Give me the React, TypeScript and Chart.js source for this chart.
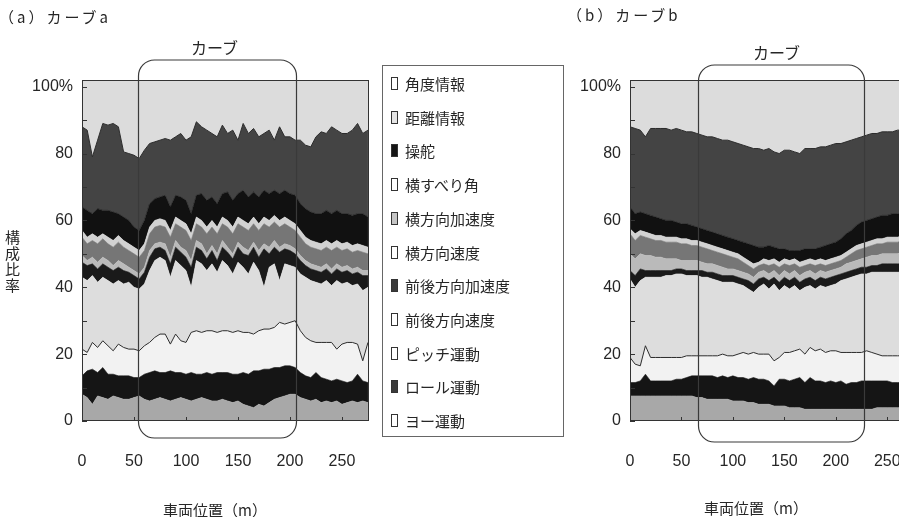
import React, { useEffect, useRef } from "react";
import { Chart, registerables } from "chart.js";

Chart.register(...registerables);

// ---------- data ----------
const POSITIONS = [
  0, 5, 10, 15, 20, 25, 30, 35,
  40, 45, 50, 55, 60, 65, 70, 75,
  80, 85, 90, 95, 100, 105, 110, 115,
  120, 125, 130, 135, 140, 145, 150, 155,
  160, 165, 170, 175, 180, 185, 190, 195,
  200, 205, 210, 215, 220, 225, 230, 235,
  240, 245, 250, 255, 260, 265, 270, 275,
];
const X_TICKS = [0, 50, 100, 150, 200, 250];
const Y_TICKS = [0, 20, 40, 60, 80, 100];
const Y_MINOR = [10, 30, 50, 70, 90];

const LAYERS = [
  "角度情報", "距離情報", "操舵", "横すべり角", "横方向加速度", "横方向速度",
  "前後方向加速度", "前後方向速度", "ピッチ運動", "ロール運動", "ヨー運動",
];

const CURVE_A = [54, 206];
const CURVE_B = [66, 227];

// Chart (a): cumulative upper boundary (%) of each layer
const A_DIST = [
  88, 87, 79, 84, 89, 88.5, 89, 88,
  80.5, 80, 79.5, 78.5, 81, 83, 83.5, 84,
  84.5, 84, 85, 86, 84, 85, 89.5, 88,
  87, 86, 85, 88.5, 86, 87, 84, 89,
  86, 87.5, 85, 86, 87, 84, 88, 85,
  85, 84, 84, 82.5, 82, 85, 86.5, 86,
  88, 87, 86, 86, 87, 89, 86, 87,
];
const A_STEER = [
  64, 63, 62, 63.5, 63, 63, 62.5, 62,
  61, 60, 58, 57, 60, 65, 66.5, 67,
  67.5, 64, 67.5, 67, 66, 62, 67.5, 68,
  66, 67, 65, 68, 68.5, 66, 68, 69,
  67, 68.5, 67, 69, 68, 69, 68, 69,
  68, 67.5, 65, 63.5, 62.5, 62, 62, 63,
  62, 63, 62, 62, 61.5, 62, 62, 61,
];
const A_SLIP = [
  57, 55, 56, 55, 56, 55, 54, 55.5,
  54, 53, 52, 51, 53, 58, 60, 60.5,
  60, 57, 61, 60, 59, 56, 61, 60,
  58, 60, 58, 61, 60, 58, 61, 60,
  59, 61, 59, 61, 60, 61.5, 60, 61,
  60, 59, 57, 55, 54, 53.5, 53, 54,
  53, 54, 53, 53.5, 52.5, 53, 52.5, 52,
];
const A_LATACC = [
  55, 53, 54, 53, 54.5, 53, 52, 53.5,
  52, 51, 50, 49, 51, 56, 58, 58.5,
  58, 55, 59, 58, 57, 54, 59, 58,
  56, 58, 56, 59, 58, 56, 59, 58,
  57, 59, 57, 59, 58, 59.5, 58, 59,
  58, 57, 55, 53, 52, 51.5, 51, 52,
  51, 52, 51, 51.5, 50.5, 51, 50.5, 50,
];
const A_LATVEL = [
  49.5, 48, 49, 47.5, 49, 48, 46.5, 48,
  47, 46, 45, 44, 46, 51, 53, 53.5,
  53, 49, 54, 52, 51, 48, 54, 53,
  50, 52.5, 50, 54, 52, 50, 53.5, 52,
  51, 53.5, 51, 53, 52, 54, 52, 53,
  52.5, 51.5, 49.5, 48, 47, 46.5, 46, 47,
  45.5, 47, 46, 46.5, 45.5, 46, 45, 45,
];
const A_LONACC = [
  47.5, 46.5, 47, 45.5, 47, 46, 45, 46,
  45, 44.5, 43.5, 42.5, 44.5, 49, 51.5, 52,
  51, 47, 52, 50.5, 49, 46, 52, 51,
  48.5, 51, 48, 52, 50.5, 48.5, 52, 50,
  49.5, 52, 49, 51.5, 50, 52, 50.5, 51.5,
  51, 50, 48, 46.5, 45.5, 45, 44.5, 45.5,
  44, 45.5, 44.5, 45, 44, 44.5, 43.5, 43.5,
];
const A_LONVEL = [
  43, 42, 43.5, 41.5, 43, 42, 41, 42,
  41, 41.5, 40, 39.5, 41, 45, 48, 49,
  48, 43, 48, 46.5, 45, 40, 48, 47,
  45, 47, 44.5, 48, 46.5, 44, 47.5, 46,
  44, 47.5, 45, 40, 46, 47, 42, 47,
  46.5, 46, 44, 43, 42, 41.5, 41, 42,
  40.5, 42, 41, 41.5, 40.5, 41, 39, 40,
];
const A_PITCH = [
  21.5, 20.5, 23.5, 22, 24, 22.5, 21, 23,
  22, 21.5, 21.5, 21, 22.5, 23.5, 25, 26,
  26, 23, 26, 24, 23.5, 26.5, 27, 26.5,
  27, 27, 26.5, 27, 27, 26.5, 27, 26.5,
  26.5, 26, 27, 27.5, 27.5, 28, 29.5, 29,
  29.5, 30, 27, 25, 24, 23.5, 23.5, 23.5,
  23.5, 21.5, 23, 23.5, 23.5, 23, 18, 23.5,
];
const A_ROLL = [
  13.5, 15, 15.5, 14.5, 16, 14, 14, 13.5,
  13.5, 13.5, 13, 13, 14, 14.5, 15, 14.5,
  14.5, 15, 14.5, 14.5, 14, 14.5, 14, 14,
  14.5, 14, 14.5, 14.5, 14.5, 14, 14, 14.5,
  14, 15, 15, 15.5, 15.5, 16, 16, 16.5,
  16.5, 16, 14.5, 13.5, 13, 14.5, 13, 12.5,
  12, 12.5, 12, 11.5, 12, 14, 12, 11.5,
];
const A_YAW = [
  8, 7, 5, 7.5, 7, 6.5, 7.5, 7,
  6.5, 6.5, 7, 7.5, 6.5, 6, 6.5, 7,
  6.5, 6, 6.5, 7, 6.5, 6, 6.5, 7,
  6.5, 6, 6, 6.5, 6, 5.5, 6, 5,
  4.5, 4, 5, 4.5, 5.5, 6.5, 7, 7.5,
  8, 8, 7, 6.5, 6, 6.5, 5.5, 6,
  5.5, 6, 5, 5.5, 6, 5.5, 6, 5.5,
];

// Chart (b)
const B_DIST = [
  88, 87.5, 87, 85, 87.5, 87.5, 87.5, 87.5,
  87, 87.5, 87, 86.5, 86.5, 86, 85.5, 85,
  85, 84.5, 84, 84, 83.5, 83, 82.5, 82,
  81.5, 81.5, 81, 81.5, 80.5, 80, 81, 81,
  80.5, 80, 81.5, 81.5, 81.5, 82, 82, 82.5,
  83, 83, 83.5, 84, 84.5, 85, 85.5, 86,
  86, 86.5, 86.5, 86.5, 87, 87, 87, 87,
];
const B_STEER = [
  64, 62, 62.5, 62, 61.5, 61, 60.5, 60,
  60, 59.5, 59, 59, 58.5, 58, 57.5, 57,
  56.5, 56, 55.5, 55, 54.5, 54, 53.5, 53,
  52.5, 52, 52, 52.5, 52, 51.5, 51.5, 51,
  51, 51, 51.5, 51.5, 51.5, 52, 52.5, 53,
  53.5, 54.5, 56, 57, 58.5, 59.5, 60, 60.5,
  61, 61.5, 61.5, 62, 62, 62, 62.5, 62.5,
];
const B_SLIP = [
  57.5, 56, 57, 56.5, 56, 55.5, 55.5, 55,
  55, 55, 54.5, 54.5, 54, 54, 53.5, 53,
  52.5, 52, 51.5, 51, 50.5, 50, 49, 48,
  47, 47.5, 48.5, 48, 48.5, 47.5, 48.5, 48,
  48.5, 47.5, 48, 48.5, 48, 48.5, 48, 48.5,
  49, 49.5, 50.5, 51.5, 52.5, 53, 53.5, 54,
  54.5, 54.5, 55, 55, 55, 55.5, 55.5, 55.5,
];
const B_LATACC = [
  56, 54, 55.5, 55, 54.5, 54, 54, 53.5,
  53.5, 53.5, 53, 53, 52.5, 52.5, 52, 51.5,
  51, 50.5, 50, 49.5, 49, 48.5, 47.5, 46.5,
  45.5, 46.5, 47, 46.5, 47, 46, 47, 46.5,
  47, 46, 46.5, 47, 46.5, 47, 46.5, 47,
  47.5, 48, 49, 50, 51, 51.5, 52, 52.5,
  53, 53, 53.5, 53.5, 53.5, 54, 54, 54,
];
const B_LATVEL = [
  50, 48.5, 50, 49.5, 49.5, 49, 49, 48.5,
  48.5, 48.5, 48, 48, 48, 48, 47.5, 47,
  47, 46.5, 46, 45.5, 45.5, 45, 44.5, 44,
  43, 44.5, 45, 44, 45, 43.5, 45, 44,
  45, 43.5, 44.5, 45, 44, 45, 44.5, 45,
  45.5, 46, 47, 47.5, 48, 48.5, 49, 49.5,
  49.5, 50, 50, 50, 50, 50.5, 50.5, 50.5,
];
const B_LONACC = [
  45, 43.5, 45.5, 45, 45, 45, 45, 45,
  45, 45.5, 45.5, 45, 45, 45, 45, 44.5,
  44.5, 44, 43.5, 43.5, 43.5, 43, 42.5, 42,
  41, 42.5, 43, 42, 43, 41.5, 43, 42,
  43, 41.5, 42.5, 43, 42, 43, 42.5, 43,
  43.5, 44, 44.5, 45, 45.5, 46, 46, 46.5,
  46.5, 47, 47, 47, 47, 47, 47, 47,
];
const B_LONVEL = [
  42.5, 40, 42, 43, 43, 43, 43, 43.5,
  43.5, 44, 44, 43.5, 43.5, 43.5, 43, 43,
  42.5, 42, 41.5, 41.5, 41.5, 41, 40.5, 39.5,
  38.5, 40, 41, 39.5, 41, 39, 40.5, 39.5,
  40.5, 39, 40, 40.5, 39.5, 40.5, 40, 40.5,
  41, 42, 42.5, 43, 43.5, 44, 44, 44.5,
  44.5, 44.5, 44.5, 44.5, 44.5, 44.5, 44.5, 44.5,
];
const B_PITCH = [
  19, 17, 16.5, 22.5, 19, 19, 19, 19,
  19, 19, 19, 19.5, 19.5, 19.5, 19.5, 19.5,
  19.5, 19.5, 20, 19.5, 19.5, 20, 20.5, 20,
  20.5, 20, 20, 20, 18, 19, 20.5, 20.5,
  21, 21.5, 20, 22, 21, 21.5, 20.5, 21,
  21, 20.5, 20.5, 20.5, 20.5, 20.5, 21, 20.5,
  20, 19.5, 19.5, 19.5, 19.5, 19.5, 19.5, 19.5,
];
const B_ROLL = [
  11.5, 11.5, 12, 14, 12, 12, 12, 12,
  12, 12.5, 12.5, 13, 13.5, 13.5, 13.5, 13.5,
  13.5, 13, 13.5, 13, 13.5, 13, 13, 12.5,
  13, 12.5, 12.5, 12, 10.5, 12.5, 12.5, 12,
  12.5, 13, 11.5, 13, 12, 12, 11.5, 12,
  11.5, 12, 11, 11.5, 11.5, 12, 12, 12,
  12, 12, 12, 11.5, 11.5, 11.5, 11.5, 11.5,
];
const B_YAW = [
  7.5, 7.5, 7.5, 7.5, 7.5, 7.5, 7.5, 7.5,
  7.5, 7.5, 7.5, 7.5, 7.5, 7, 7, 6.5,
  6.5, 6.5, 6.5, 6.5, 6, 6, 6, 5.5,
  5.5, 5, 5, 5, 4.5, 4.5, 4.5, 4,
  4, 4, 3.5, 3.5, 3.5, 3.5, 3.5, 3.5,
  3.5, 3.5, 3.5, 3.5, 3.5, 3.5, 3.5, 3.5,
  4, 4, 4, 4, 4, 4, 4, 4,
];

// ---------- styles ----------
const FILLS = [
  "#dcdcdc", "#444444", "#111111", "#d2d2d2", "#767676", "#bababa",
  "#1a1a1a", "#dddddd", "#f2f2f2", "#151515", "#a8a8a8",
];
const SWATCH = [
  "#ffffff", "#e4e4e4", "#151515", "#ffffff", "#c4c4c4", "#ffffff",
  "#3a3a3a", "#ffffff", "#ffffff", "#3a3a3a", "#ffffff",
];
const NUM_FONT = "'Liberation Sans', Arial, sans-serif";
const JP_FONT = "'Noto Sans CJK JP', 'Noto Sans', sans-serif";
const INK = "#262626";

function buildDatasets(bounds: number[][]) {
  const pts = (arr: number[]) => POSITIONS.map((x, i) => ({ x, y: arr[i] }));
  const ds: any[] = [];
  for (let k = 10; k >= 1; k--) {
    const dark = k === 8 || k === 1;
    ds.push({
      label: LAYERS[k],
      data: pts(bounds[k - 1]),
      fill: k === 10 ? "origin" : "-1",
      backgroundColor: FILLS[k],
      borderColor: dark ? "#2c2c2c" : FILLS[k],
      borderWidth: dark ? 1 : 0.6,
      pointRadius: 0,
      tension: 0,
    });
  }
  ds.push({
    label: LAYERS[0],
    data: pts(bounds[0]),
    fill: "end",
    backgroundColor: FILLS[0],
    borderWidth: 0,
    pointRadius: 0,
    tension: 0,
  });
  return ds;
}

function decor(curve: number[], boxUp: number, boxDown: number) {
  return {
    id: "decor",
    afterDatasetsDraw(chart: any) {
      const { ctx, chartArea: a, scales } = chart;
      const x = scales.x;
      const y = scales.y;
      ctx.save();
      ctx.strokeStyle = "#333";
      ctx.lineWidth = 1;
      ctx.strokeRect(Math.round(a.left) + 0.5, Math.round(a.top) + 0.5, Math.round(a.width) - 1, Math.round(a.height) - 1);
      ctx.beginPath();
      [...Y_TICKS, ...Y_MINOR].forEach((v) => {
        const py = Math.round(y.getPixelForValue(v)) + 0.5;
        ctx.moveTo(a.left, py);
        ctx.lineTo(a.left + 5, py);
      });
      X_TICKS.forEach((v) => {
        const px = Math.round(x.getPixelForValue(v)) + 0.5;
        ctx.moveTo(px, a.bottom);
        ctx.lineTo(px, a.bottom - 4);
      });
      ctx.stroke();
      const x0 = Math.round(x.getPixelForValue(curve[0])) + 0.5;
      const x1 = Math.round(x.getPixelForValue(curve[1])) + 0.5;
      const top = a.top - boxUp;
      const bot = a.bottom + boxDown;
      ctx.strokeStyle = "#3a3a3a";
      ctx.lineWidth = 1.2;
      ctx.beginPath();
      ctx.roundRect(x0, top, x1 - x0, bot - top, 16);
      ctx.stroke();
      ctx.restore();
    },
  };
}

type ChartProps = {
  bounds: number[][];
  curve: number[];
  left: number;
  width: number;
  axisWidth: number;
  padRight: number;
  boxUp: number;
  boxDown: number;
};

function StackChart(p: ChartProps) {
  const ref = useRef<HTMLCanvasElement>(null);
  useEffect(() => {
    const chart = new Chart(ref.current as HTMLCanvasElement, {
      type: "line",
      data: { datasets: buildDatasets(p.bounds) },
      options: {
        animation: false,
        responsive: false,
        maintainAspectRatio: false,
        layout: { padding: { top: 80, right: p.padRight, bottom: 46, left: 0 } },
        plugins: {
          legend: { display: false },
          tooltip: { enabled: false },
        },
        scales: {
          x: {
            type: "linear",
            min: 0,
            max: 276,
            grid: { display: false, drawTicks: false },
            border: { display: false },
            afterBuildTicks: (s: any) => {
              s.ticks = X_TICKS.map((v) => ({ value: v }));
            },
            afterFit: (s: any) => {
              s.height = 50;
              s.paddingLeft = 0;
              s.paddingRight = 0;
            },
            ticks: {
              padding: 31,
              maxRotation: 0,
              autoSkip: false,
              color: INK,
              font: { family: NUM_FONT, size: 16 },
              callback: (v: any) => String(v),
            },
          },
          y: {
            type: "linear",
            min: 0,
            max: 102,
            grid: { display: false, drawTicks: false },
            border: { display: false },
            afterBuildTicks: (s: any) => {
              s.ticks = Y_TICKS.map((v) => ({ value: v }));
            },
            afterFit: (s: any) => {
              s.width = p.axisWidth;
              s.paddingTop = 0;
              s.paddingBottom = 0;
            },
            ticks: {
              padding: 9,
              color: INK,
              font: { family: NUM_FONT, size: 16 },
              callback: (v: any) => (v === 100 ? "100%" : String(v)),
            },
          },
        },
      } as any,
      plugins: [decor(p.curve, p.boxUp, p.boxDown)],
    });
    return () => chart.destroy();
  }, []);
  return (
    <canvas
      ref={ref}
      width={p.width}
      height={517}
      style={{ position: "absolute", left: p.left, top: 0, width: p.width, height: 517 }}
    />
  );
}

const txt = (extra: React.CSSProperties): React.CSSProperties => ({
  position: "absolute",
  fontFamily: JP_FONT,
  color: INK,
  whiteSpace: "nowrap",
  lineHeight: "18px",
  ...extra,
});

export default function App() {
  const boundsA = [A_DIST, A_STEER, A_SLIP, A_LATACC, A_LATVEL, A_LONACC, A_LONVEL, A_PITCH, A_ROLL, A_YAW];
  const boundsB = [B_DIST, B_STEER, B_SLIP, B_LATACC, B_LATVEL, B_LONACC, B_LONVEL, B_PITCH, B_ROLL, B_YAW];
  return (
    <div
      style={{
        position: "absolute",
        left: 0,
        top: 0,
        width: 899,
        height: 517,
        overflow: "hidden",
        background: "#ffffff",
      }}
    >
      <StackChart bounds={boundsA} curve={CURVE_A} left={0} width={380} axisWidth={82} padRight={11} boxUp={20} boxDown={17} />
      <StackChart bounds={boundsB} curve={CURVE_B} left={560} width={360} axisWidth={70} padRight={6} boxUp={15} boxDown={21} />

      <div style={txt({ left: -1, top: 8, fontSize: 15, letterSpacing: 3 })}>（a）カーブa</div>
      <div style={txt({ left: 567, top: 6, fontSize: 15, letterSpacing: 3 })}>（b）カーブb</div>
      <div style={txt({ left: 191, top: 38, fontSize: 16 })}>カーブ</div>
      <div style={txt({ left: 753, top: 43, fontSize: 16 })}>カーブ</div>
      <div
        style={txt({
          left: 5,
          top: 229,
          fontSize: 15,
          width: 16,
          whiteSpace: "normal",
          wordBreak: "break-all",
          lineHeight: "16px",
        })}
      >
        構成比率
      </div>
      <div style={txt({ left: 163, top: 501, fontSize: 15 })}>車両位置（m）</div>
      <div style={txt({ left: 704, top: 499, fontSize: 15 })}>車両位置（m）</div>

      <div
        style={{
          position: "absolute",
          left: 382,
          top: 65,
          width: 182,
          height: 372,
          border: "1px solid #666",
          boxSizing: "border-box",
        }}
      >
        {LAYERS.map((name, i) => (
          <div key={name} style={{ position: "absolute", left: 0, top: 18 + i * 33.7 - 9, height: 18, width: 180 }}>
            <div
              style={{
                position: "absolute",
                left: 8,
                top: 2,
                width: 7,
                height: 13,
                border: "1px solid #333",
                boxSizing: "border-box",
                background: SWATCH[i],
              }}
            />
            <div style={txt({ left: 22, top: 0, fontSize: 15 })}>{name}</div>
          </div>
        ))}
      </div>
    </div>
  );
}
